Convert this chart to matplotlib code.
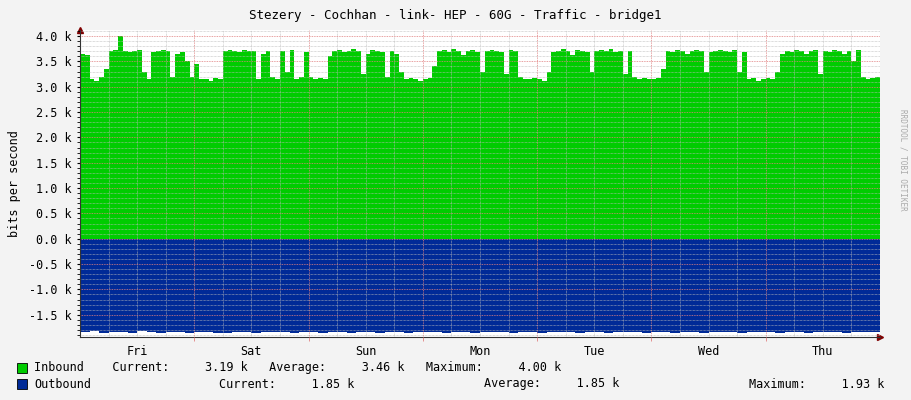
import numpy as np
import matplotlib.pyplot as plt
from matplotlib.ticker import MultipleLocator, FuncFormatter

# hourly inbound traffic (k bits/s), Thu 00:00 -> Thu 23:00
inbound = [
    3.65, 3.62, 3.15, 3.12, 3.20, 3.35, 3.70, 3.72, 4.00, 3.70, 3.68, 3.70,
    3.72, 3.30, 3.15, 3.68, 3.70, 3.72, 3.70, 3.20, 3.65, 3.68, 3.50, 3.20,
    3.45, 3.15, 3.15, 3.12, 3.18, 3.15, 3.70, 3.72, 3.70, 3.68, 3.72, 3.70,
    3.70, 3.15, 3.65, 3.70, 3.20, 3.15, 3.70, 3.30, 3.72, 3.15, 3.20, 3.68,
    3.20, 3.15, 3.18, 3.15, 3.60, 3.70, 3.72, 3.68, 3.70, 3.74, 3.70, 3.25,
    3.65, 3.72, 3.70, 3.68, 3.20, 3.70, 3.65, 3.30, 3.15, 3.18, 3.15, 3.12,
    3.15, 3.18, 3.40, 3.70, 3.72, 3.68, 3.75, 3.70, 3.62, 3.70, 3.72, 3.68,
    3.30, 3.70, 3.72, 3.70, 3.68, 3.25, 3.72, 3.70, 3.20, 3.15, 3.15, 3.18,
    3.15, 3.12, 3.30, 3.68, 3.70, 3.75, 3.70, 3.62, 3.72, 3.70, 3.68, 3.30,
    3.70, 3.72, 3.70, 3.74, 3.68, 3.70, 3.25, 3.70, 3.20, 3.15, 3.18, 3.15,
    3.15, 3.18, 3.35, 3.70, 3.68, 3.72, 3.70, 3.65, 3.70, 3.72, 3.70, 3.30,
    3.68, 3.70, 3.72, 3.70, 3.68, 3.72, 3.30, 3.68, 3.15, 3.18, 3.12, 3.15,
    3.18, 3.15, 3.30, 3.65, 3.70, 3.68, 3.72, 3.70, 3.65, 3.70, 3.72, 3.25,
    3.70, 3.68, 3.72, 3.70, 3.65, 3.70, 3.50, 3.72, 3.20, 3.15, 3.18, 3.19,
]
# two-hourly outbound traffic (k bits/s)
outbound = [
    1.84, 1.83, 1.86, 1.85, 1.84, 1.86, 1.83, 1.85, 1.86, 1.84, 1.85, 1.86,
    1.85, 1.84, 1.86, 1.87, 1.85, 1.84, 1.86, 1.85, 1.84, 1.85, 1.86, 1.84,
    1.85, 1.86, 1.84, 1.85, 1.87, 1.84, 1.85, 1.86, 1.85, 1.84, 1.86, 1.85,
    1.84, 1.85, 1.86, 1.85, 1.84, 1.86, 1.85, 1.84, 1.85, 1.86, 1.85, 1.84,
    1.86, 1.85, 1.84, 1.85, 1.86, 1.84, 1.85, 1.86, 1.85, 1.84, 1.85, 1.86,
    1.84, 1.85, 1.86, 1.85, 1.84, 1.86, 1.85, 1.84, 1.85, 1.86, 1.85, 1.84,
    1.85, 1.86, 1.84, 1.85, 1.86, 1.85, 1.84, 1.85, 1.86, 1.85, 1.84, 1.85,
]
days = ['Fri', 'Sat', 'Sun', 'Mon', 'Tue', 'Wed', 'Thu']

plt.rcParams['font.family'] = 'DejaVu Sans Mono'
plt.rcParams['font.size'] = 8.5

fig = plt.figure(figsize=(9.11, 4.0), dpi=100)
fig.patch.set_facecolor('#F3F3F3')
ax = fig.add_axes([80 / 911, 1 - 337 / 400, 800 / 911, 307 / 400])
ax.set_facecolor('white')

t_in = np.arange(len(inbound) + 1)
ax.fill_between(t_in, np.append(inbound, inbound[-1]), step='post', color='#00CC00', lw=0)
t_out = np.arange(len(outbound) + 1) * 2
ax.fill_between(t_out, -np.append(outbound, outbound[-1]), step='post', color='#002A97', lw=0)

ax.set_xlim(0, 168)
ax.set_ylim(-1.94, 4.12)

# grid like rrdtool
ax.yaxis.set_major_locator(MultipleLocator(0.5))
ax.yaxis.set_minor_locator(MultipleLocator(0.1))
ax.grid(axis='y', which='minor', color='#BBBBBB', ls=(0, (1, 1)), lw=0.5)
ax.grid(axis='y', which='major', color='#E08080', ls=(0, (1, 1)), lw=0.6)
for h in range(6, 168, 6):
    red = h % 24 == 0
    ax.axvline(h, color='#E08080' if red else '#BBBBBB', ls=(0, (1, 1)),
               lw=0.6 if red else 0.5)
ax.set_axisbelow(False)

ax.yaxis.set_major_formatter(FuncFormatter(lambda v, p: '%.1f k' % v))
ax.set_xticks(np.arange(12, 168, 24))
ax.set_xticklabels(days)
ax.set_xticks(np.arange(24, 168, 24), minor=True)
ax.tick_params(axis='x', which='major', length=0, pad=6)
ax.tick_params(axis='x', which='minor', length=3, color='#E08080')
ax.tick_params(axis='y', which='both', length=2, pad=4)
for s in ['top', 'right']:
    ax.spines[s].set_visible(False)
for s in ['left', 'bottom']:
    ax.spines[s].set_color('#333333')
    ax.spines[s].set_linewidth(0.8)
ax.plot(0, 1, '^', color='#800000', ms=4, transform=ax.transAxes, clip_on=False)
ax.plot(1, 0, '>', color='#800000', ms=4, transform=ax.transAxes, clip_on=False)

ax.set_ylabel('bits per second', labelpad=6)
fig.text(0.5, 1 - 15 / 400, 'Stezery - Cochhan - link- HEP - 60G - Traffic - bridge1',
         ha='center', va='center', fontsize=9)
fig.text(903 / 911, 0.5 + 40 / 400, 'RRDTOOL / TOBI OETIKER', rotation=270,
         ha='center', va='center', fontsize=5.5, color='#AAAAAA')

# legend
fig.patches.append(plt.Rectangle((17 / 911, 1 - 373 / 400), 10 / 911, 10 / 400,
                                 transform=fig.transFigure, fc='#00CC00', ec='black', lw=0.6))
fig.patches.append(plt.Rectangle((17 / 911, 1 - 389 / 400), 10 / 911, 10 / 400,
                                 transform=fig.transFigure, fc='#002A97', ec='black', lw=0.6))
fig.text(34 / 911, 1 - 368 / 400, 'Inbound    Current:     3.19 k   Average:     3.46 k   Maximum:     4.00 k',
         va='center')
fig.text(34 / 911, 1 - 384 / 400, 'Outbound', va='center')
fig.text(219 / 911, 1 - 384 / 400, 'Current:     1.85 k', va='center')
fig.text(484 / 911, 1 - 384 / 400, 'Average:     1.85 k', va='center')
fig.text(749 / 911, 1 - 384 / 400, 'Maximum:     1.93 k', va='center')

fig.savefig('out.png', dpi=100, facecolor=fig.get_facecolor())
